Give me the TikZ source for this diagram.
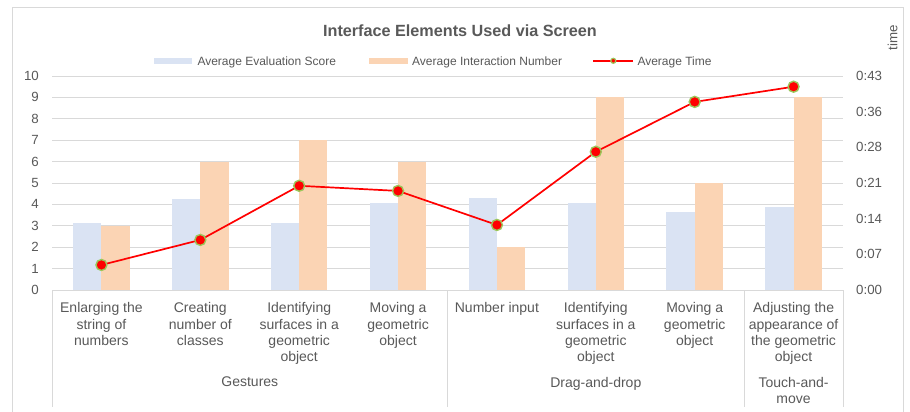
\documentclass[tikz,border=0pt]{standalone}
\usepackage{fontspec}
\setmainfont{Liberation Sans}
\definecolor{txt}{HTML}{595959}
\definecolor{gridc}{HTML}{D9D9D9}
\definecolor{evalc}{HTML}{DAE3F3}
\definecolor{interc}{HTML}{FBD4B4}
\definecolor{mk}{HTML}{9BC75A}
\begin{document}
\begin{tikzpicture}[x=1pt,y=-1pt,
  gridline/.style={draw=gridc,line width=1pt},
  axlbl/.style={font=\fontsize{13.3}{16}\selectfont,text=txt,inner sep=0pt},
  catlbl/.style={font=\fontsize{14}{16.4}\selectfont,text=txt,inner sep=0pt,align=center,anchor=north},
  legtxt/.style={font=\fontsize{12}{14}\selectfont,text=txt,inner sep=0pt,anchor=base west},
  tdot/.style={circle,fill=red,draw=mk,line width=1.4pt,minimum size=11pt,inner sep=0pt},
  legdot/.style={circle,fill=red,draw=mk,line width=1.2pt,minimum size=5pt,inner sep=0pt},
  tline/.style={draw=red,line width=1.7pt},
  evalbar/.style={fill=evalc},
  interbar/.style={fill=interc},
]
\useasboundingbox (0,0) rectangle (910,412);
\fill[white] (0,0) rectangle (910,412);
% outer chart frame
\draw[gridline] (12,412) -- (12,8) -- (903,8) -- (903,412);
% title
\node[font=\bfseries\fontsize{16.2}{19}\selectfont,text=txt,inner sep=0pt] (title) at (460,31) {Interface Elements Used via Screen};
% right axis title
\node[axlbl,rotate=90] (ttime) at (892.5,37.5) {time};
% legend
\fill[evalbar] (154,58.3) rectangle (192.3,64.3);
\node[legtxt] (leg1) at (197.3,65.3) {Average Evaluation Score};
\fill[interbar] (369.3,58.3) rectangle (407.6,64.3);
\node[legtxt] (leg2) at (412,65.3) {Average Interaction Number};
\coordinate (lgA) at (593.3,60.8);
\coordinate (lgB) at (633.3,60.8);
\draw[tline] (lgA) -- (lgB);
\node[legdot] (legm) at (613.3,60.8) {};
\node[legtxt] (leg3) at (637.3,65.3) {Average Time};
% gridlines
\foreach \v in {1,...,10} \draw[gridline] (52,{290-21.4*\v}) -- (843,{290-21.4*\v});
% left axis labels
\foreach \v in {0,...,10} \node[axlbl,anchor=east] (yl\v) at (39,{290-21.4*\v}) {\v};
% right axis labels
\foreach \t [count=\k from 0] in {0:00,0:07,0:14,0:21,0:28,0:36,0:43}
  \node[axlbl,anchor=west] (yr\k) at (856,{290-214/6*\k}) {\t};
% bars
\foreach \e/\n [count=\i] in {3.12/3,4.24/6,3.15/7,4.08/6,4.31/2,4.05/9,3.63/5,3.89/9} {
  \pgfmathsetmacro\cx{52+(\i-0.5)*98.875}
  \fill[evalbar] ({\cx-28.3},290) rectangle (\cx,{290-21.4*\e});
  \fill[interbar] (\cx,290) rectangle ({\cx+28.3},{290-21.4*\n});
}
% category axis box
\draw[gridline] (52,290) -- (843,290);
\foreach \x in {52,447.5,744.1,843} \draw[gridline] (\x,290) -- (\x,407);
% category labels
\node[catlbl] (c1) at (101.4,302.3) {Enlarging the\\string of\\numbers};
\node[catlbl] (c2) at (200.3,302.3) {Creating\\number of\\classes};
\node[catlbl] (c3) at (299.2,302.3) {Identifying\\surfaces in a\\geometric\\object};
\node[catlbl] (c4) at (398.1,302.3) {Moving a\\geometric\\object};
\node[catlbl] (c5) at (496.9,302.3) {Number input};
\node[catlbl] (c6) at (595.8,302.3) {Identifying\\surfaces in a\\geometric\\object};
\node[catlbl] (c7) at (694.7,302.3) {Moving a\\geometric\\object};
\node[catlbl] (c8) at (793.6,302.3) {Adjusting the\\appearance of\\the geometric\\object};
\node[catlbl] (g1) at (249.8,377) {Gestures};
\node[catlbl] (g2) at (595.8,377) {Drag-and-drop};
\node[catlbl] (g3) at (793.6,377) {Touch-and-\\move};
% time line
\foreach \tv [count=\i] in {1.17,2.34,4.87,4.63,3.04,6.46,8.79,9.50} {
  \pgfmathsetmacro\cx{52+(\i-0.5)*98.875}
  \coordinate (p\i) at (\cx,{290-21.4*\tv});
}
\draw[tline,line join=round] (p1) -- (p2) -- (p3) -- (p4) -- (p5) -- (p6) -- (p7) -- (p8);
\foreach \i in {1,...,8} \node[tdot] (t\i) at (p\i) {};
\end{tikzpicture}
\end{document}
